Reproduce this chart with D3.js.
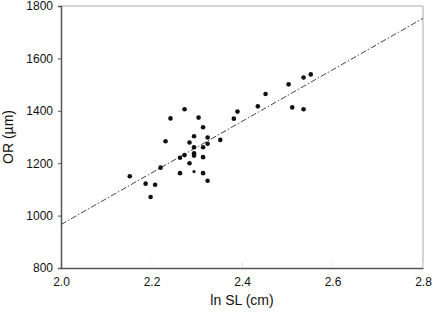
<!DOCTYPE html>
<html>
<head>
<meta charset="utf-8">
<script src="https://cdn.jsdelivr.net/npm/d3@7"></script>
<style>
  body { margin: 0; background: #fff; }
  svg { display: block; font-family: "Liberation Sans", Arial, sans-serif; }
</style>
</head>
<body>
<svg id="chart"></svg>
<script>
// ln SL (cm)
const lnSL = [2.152, 2.187, 2.208, 2.198, 2.220, 2.231, 2.242, 2.263, 2.263, 2.273,
  2.273, 2.284, 2.284, 2.294, 2.294, 2.294, 2.294, 2.294, 2.304, 2.314,
  2.314, 2.314, 2.314, 2.324, 2.324, 2.324, 2.352, 2.382, 2.390, 2.435,
  2.452, 2.503, 2.536, 2.552, 2.511, 2.536];
// OR (um)
const orVals = [1150, 1122, 1118, 1071, 1183, 1284, 1371, 1221, 1162, 1406,
  1231, 1279, 1200, 1303, 1261, 1238, 1229, 1168, 1374, 1337,
  1261, 1223, 1162, 1298, 1274, 1133, 1289, 1370, 1397, 1417,
  1464, 1501, 1527, 1539, 1413, 1406];

// regression line end points
const fitX = [2.0, 2.8];
const fitY = [966, 1753];

const xTicks = [2.0, 2.2, 2.4, 2.6, 2.8];
const yTicks = [800, 1000, 1200, 1400, 1600, 1800];

let W = 433, H = 312;
let margin = {left: 61, right: 10, top: 6, bottom: 44};

let svg = d3.select("#chart")
  .attr("width", W)
  .attr("height", H);

let x = d3.scaleLinear()
  .domain([2.0, 2.8])
  .range([margin.left, W - margin.right]);
let y = d3.scaleLinear()
  .domain([800, 1800])
  .range([H - margin.bottom, margin.top]);

// light frame top + right
svg.append("path")
  .attr("d", `M${x(2.0)},${y(1800)}H${x(2.8)}V${y(800)}`)
  .attr("fill", "none")
  .attr("stroke", "#aaa")
  .attr("stroke-width", 1);

// x axis
let xAxis = svg.append("g")
  .attr("transform", `translate(0,${y(800)})`)
  .call(d3.axisBottom(x).tickValues(xTicks).tickFormat(d3.format(".1f")).tickSize(0).tickPadding(9));
xAxis.select(".domain").attr("stroke", "#555").attr("stroke-width", 1.5);
xAxis.selectAll("text").attr("font-size", 12).attr("fill", "#111");
// faint inner ticks
xAxis.selectAll(".tick").append("line")
  .attr("y1", 0).attr("y2", -6)
  .attr("stroke", "#e4e4e4");

// y axis
let yAxis = svg.append("g")
  .attr("transform", `translate(${x(2.0)},0)`)
  .call(d3.axisLeft(y).tickValues(yTicks).tickFormat(d3.format("d")).tickSize(3).tickPadding(5));
yAxis.select(".domain").attr("stroke", "#555").attr("stroke-width", 1.5);
yAxis.selectAll(".tick line").attr("stroke", "#555");
yAxis.selectAll("text").attr("font-size", 12).attr("fill", "#111");

// fit line
svg.append("line")
  .attr("x1", x(fitX[0])).attr("y1", y(fitY[0]))
  .attr("x2", x(fitX[1])).attr("y2", y(fitY[1]))
  .attr("stroke", "#333")
  .attr("stroke-width", 0.9)
  .attr("stroke-dasharray", "6,2,1.5,2");

// points
let pts = lnSL.map((v, i) => [v, orVals[i]]);
svg.append("g").selectAll("circle")
  .data(pts)
  .enter().append("circle")
    .attr("cx", d => x(d[0]))
    .attr("cy", d => y(d[1]))
    .attr("r", (d, i) => i == 17 ? 1.6 : 2.3)
    .attr("fill", "#111");

// axis titles
svg.append("text")
  .attr("x", (x(2.0) + x(2.8)) / 2)
  .attr("y", 305)
  .attr("text-anchor", "middle")
  .attr("font-size", 14)
  .attr("fill", "#111")
  .text("ln SL (cm)");

svg.append("text")
  .attr("transform", `translate(13,${(y(800) + y(1800)) / 2}) rotate(-90)`)
  .attr("text-anchor", "middle")
  .attr("font-size", 14)
  .attr("fill", "#111")
  .text("OR (µm)");
</script>
</body>
</html>
